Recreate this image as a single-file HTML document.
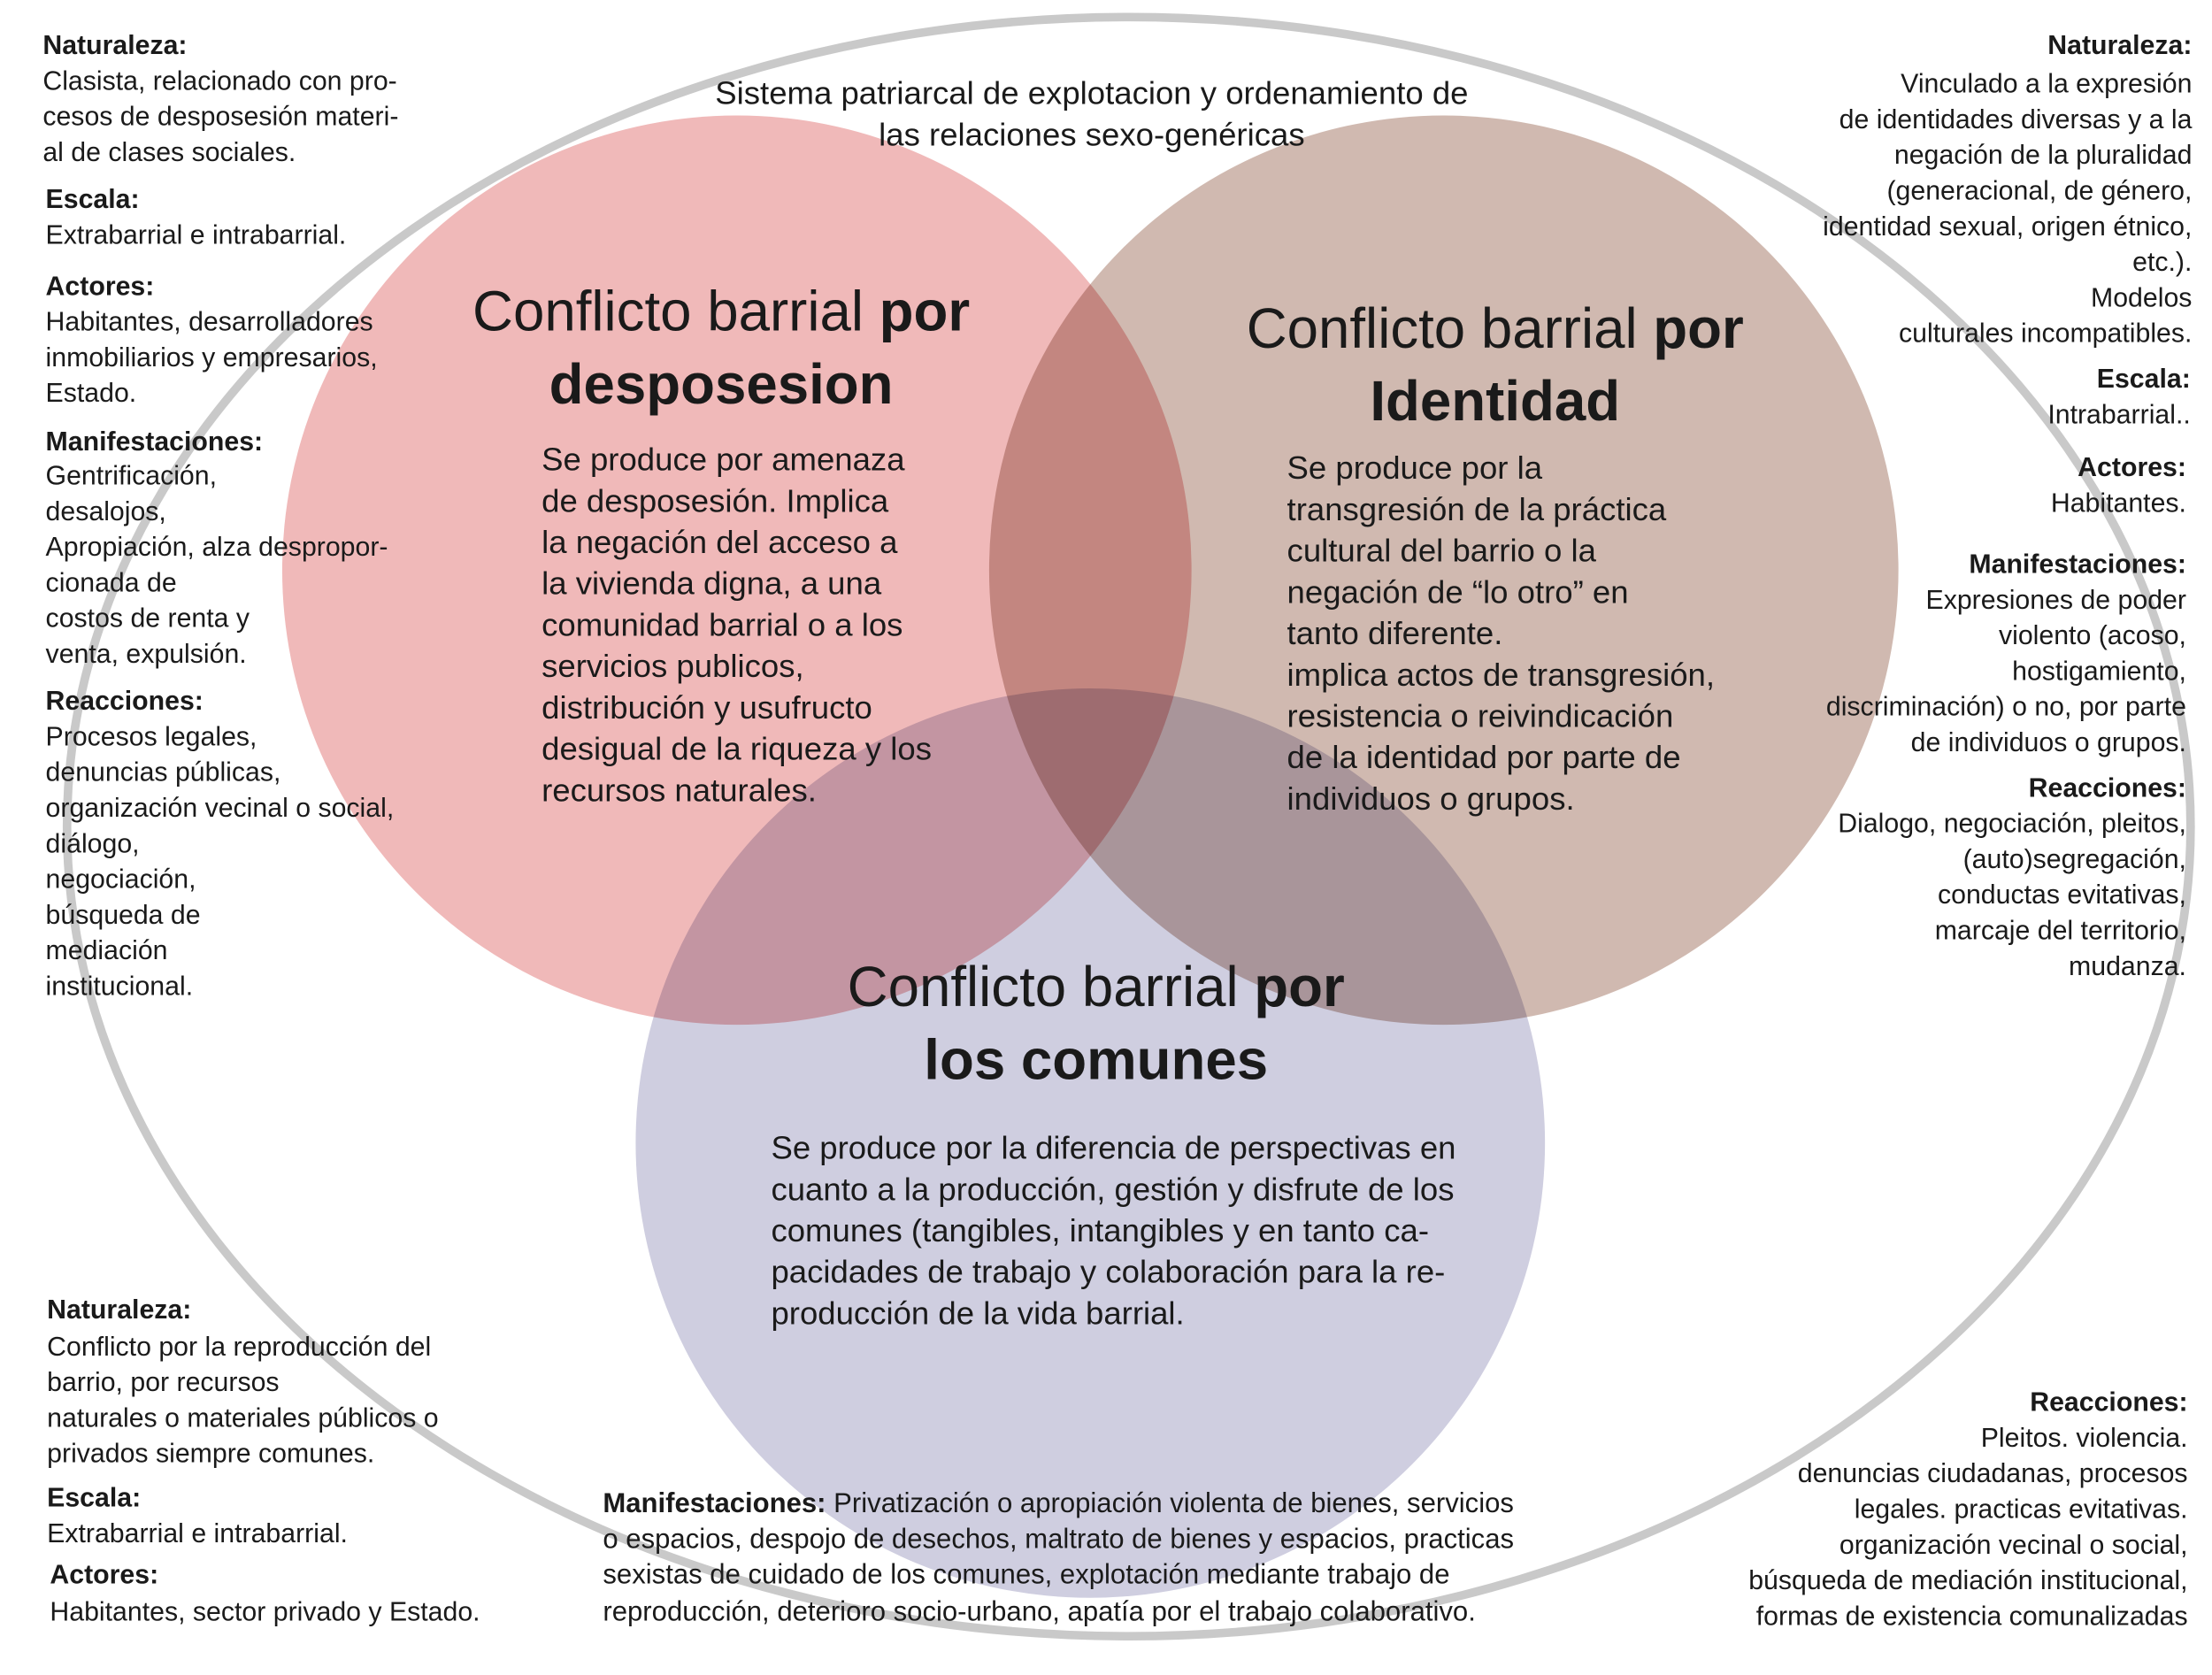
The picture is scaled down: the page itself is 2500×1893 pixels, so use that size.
<!DOCTYPE html>
<html><head><meta charset="utf-8"><style>
html,body{margin:0;padding:0;background:#fff}
svg{display:block}
text{font-family:"Liberation Sans",sans-serif;fill:#1a1a1a}
.s{font-size:18.8px}
.bt{font-size:19.3px}
.b{font-weight:bold}
.m{font-size:22.7px}
.t{font-size:39.5px}
</style></head><body>
<svg width="2500" height="1893" viewBox="0 0 1552 1175.2" xmlns="http://www.w3.org/2000/svg">
<rect width="1552" height="1176" fill="#fff"/>
<ellipse cx="792" cy="580" rx="745" ry="568" fill="none" stroke="#c9c9c9" stroke-width="6"/>
<g style="isolation:isolate">
<circle cx="517" cy="400" r="319" fill="#f0b9b9" style="mix-blend-mode:multiply"/>
<circle cx="1013" cy="400" r="319" fill="#cbb2a7" opacity="0.9" style="mix-blend-mode:multiply"/>
<circle cx="765" cy="802" r="319" fill="#cfcee0" style="mix-blend-mode:multiply"/>
</g>

<g class="s">
<text x="30" y="38" class="b">Naturaleza:</text>
<text x="30" y="63">Clasista, relacionado con pro-</text>
<text x="30" y="88">cesos de desposesión materi-</text>
<text x="30" y="113">al de clases sociales.</text>
<text x="32" y="146" class="b">Escala:</text>
<text x="32" y="171">Extrabarrial e intrabarrial.</text>
<text x="32" y="207" class="b">Actores:</text>
<text x="32" y="232">Habitantes, desarrolladores</text>
<text x="32" y="257">inmobiliarios y empresarios,</text>
<text x="32" y="282">Estado.</text>
<text x="32" y="316" class="b">Manifestaciones:</text>
<text x="32" y="340">Gentrificación,</text>
<text x="32" y="365">desalojos,</text>
<text x="32" y="390">Apropiación, alza despropor-</text>
<text x="32" y="415">cionada de</text>
<text x="32" y="440">costos de renta y</text>
<text x="32" y="465">venta, expulsión.</text>
<text x="32" y="498" class="b">Reacciones:</text>
<text x="32" y="523">Procesos legales,</text>
<text x="32" y="548">denuncias públicas,</text>
<text x="32" y="573"> organización vecinal o social,</text>
<text x="32" y="598">diálogo,</text>
<text x="32" y="623">negociación,</text>
<text x="32" y="648"> búsqueda de</text>
<text x="32" y="673">mediación</text>
<text x="32" y="698">institucional.</text>
</g>

<g class="s" text-anchor="end">
<text x="1538" y="38" class="b">Naturaleza:</text>
<text x="1538" y="65">Vinculado a la expresión</text>
<text x="1538" y="90">de identidades diversas y a la</text>
<text x="1538" y="115">negación de la pluralidad</text>
<text x="1538" y="140">(generacional, de género,</text>
<text x="1538" y="165">identidad sexual, origen étnico,</text>
<text x="1538" y="190">etc.).</text>
<text x="1538" y="215">Modelos</text>
<text x="1538" y="240">culturales incompatibles.</text>
<text x="1537" y="272" class="b">Escala:</text>
<text x="1537" y="297">Intrabarrial..</text>
<text x="1534" y="334" class="b">Actores:</text>
<text x="1534" y="359">Habitantes.</text>
<text x="1534" y="402" class="b">Manifestaciones:</text>
<text x="1534" y="427">Expresiones de poder</text>
<text x="1534" y="452">violento (acoso,</text>
<text x="1534" y="477">hostigamiento,</text>
<text x="1534" y="502">discriminación) o no, por parte</text>
<text x="1534" y="527">de individuos o grupos.</text>
<text x="1534" y="559" class="b">Reacciones:</text>
<text x="1534" y="584">Dialogo, negociación, pleitos,</text>
<text x="1534" y="609">(auto)segregación,</text>
<text x="1534" y="634">conductas evitativas,</text>
<text x="1534" y="659">marcaje del territorio,</text>
<text x="1534" y="684">mudanza.</text>
</g>

<g class="m" text-anchor="middle">
<text x="766" y="73">Sistema patriarcal de explotacion y ordenamiento de</text>
<text x="766" y="102">las relaciones sexo-genéricas</text>
</g>

<g class="t" text-anchor="middle">
<text x="506" y="232">Conflicto barrial <tspan class="b">por</tspan></text>
<text x="506" y="283" class="b">desposesion</text>
<text x="1049" y="244">Conflicto barrial <tspan class="b">por</tspan></text>
<text x="1049" y="295" class="b">Identidad</text>
<text x="769" y="706">Conflicto barrial <tspan class="b">por</tspan></text>
<text x="769" y="757" class="b">los comunes</text>
</g>

<g class="m">
<text x="380" y="330">Se produce por amenaza</text>
<text x="380" y="359">de desposesión. Implica</text>
<text x="380" y="388"> la negación del acceso a</text>
<text x="380" y="417">la vivienda digna, a una</text>
<text x="380" y="446">comunidad barrial o a los</text>
<text x="380" y="475">servicios publicos,</text>
<text x="380" y="504">distribución y usufructo</text>
<text x="380" y="533">desigual de la riqueza y los</text>
<text x="380" y="562">recursos naturales.</text>

<text x="903" y="336">Se produce por la</text>
<text x="903" y="365">transgresión de la práctica</text>
<text x="903" y="394">cultural del barrio o la</text>
<text x="903" y="423">negación de “lo otro” en</text>
<text x="903" y="452">tanto diferente.</text>
<text x="903" y="481">implica actos de transgresión,</text>
<text x="903" y="510">resistencia o reivindicación</text>
<text x="903" y="539">de la identidad por parte de</text>
<text x="903" y="568">individuos o grupos.</text>

<text x="541" y="813">Se produce por la diferencia de perspectivas en</text>
<text x="541" y="842">cuanto a la producción, gestión  y disfrute de los</text>
<text x="541" y="871">comunes (tangibles, intangibles y en tanto ca-</text>
<text x="541" y="900">pacidades de trabajo y colaboración para la re-</text>
<text x="541" y="929">producción de la vida barrial.</text>
</g>

<g class="s">
<text x="33" y="925" class="b">Naturaleza:</text>
<text x="33" y="951">Conflicto por la reproducción del</text>
<text x="33" y="976">barrio, por recursos</text>
<text x="33" y="1001">naturales o materiales públicos o</text>
<text x="33" y="1026">privados siempre comunes.</text>
<text x="33" y="1057" class="b">Escala:</text>
<text x="33" y="1082">Extrabarrial e intrabarrial.</text>
<text x="35" y="1111" class="b">Actores:</text>
<text x="35" y="1137">Habitantes, sector privado y Estado.</text>
</g>
<g class="bt">
<text x="423" y="1061"><tspan class="b">Manifestaciones:</tspan> Privatización  o apropiación violenta de bienes, servicios</text>
<text x="423" y="1086">o espacios, despojo de desechos, maltrato de bienes y espacios, practicas</text>
<text x="423" y="1111">sexistas de cuidado de los comunes, explotación mediante trabajo de</text>
<text x="423" y="1137">reproducción, deterioro socio-urbano, apatía por el trabajo colaborativo.</text>
</g>

<g class="s" text-anchor="end">
<text x="1535" y="990" class="b">Reacciones:</text>
<text x="1535" y="1015">Pleitos. violencia.</text>
<text x="1535" y="1040">denuncias ciudadanas, procesos</text>
<text x="1535" y="1065">legales. practicas evitativas.</text>
<text x="1535" y="1090">organización vecinal o social,</text>
<text x="1535" y="1115">búsqueda de mediación institucional,</text>
<text x="1535" y="1140">formas de existencia comunalizadas</text>
</g>
</svg>
</body></html>
